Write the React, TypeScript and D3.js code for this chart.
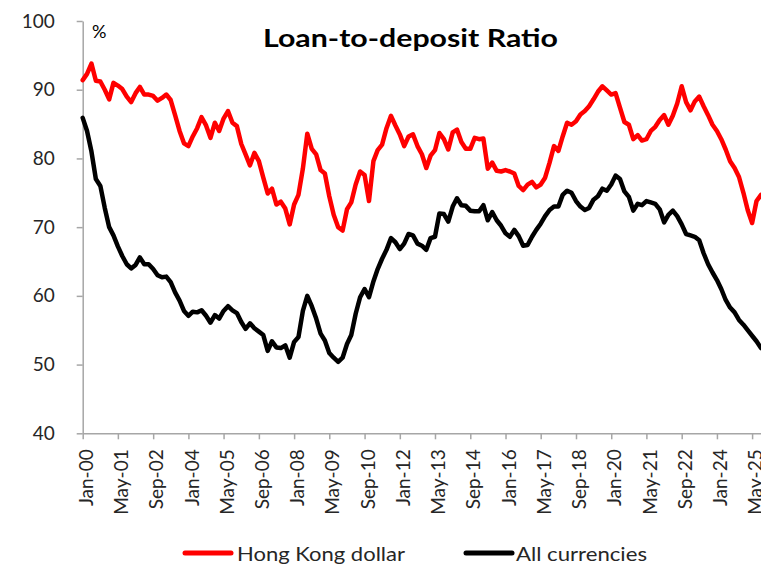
import { useEffect, useRef } from "react";
import * as d3 from "d3";

// monthly data sampled every 2 months, starting Jan-00
const startMonth = "Jan-00";
const stepMonths = 2;
const lastMonthOffset = 308;

const hkDollar = [
  91.4, 92.3, 93.8, 91.3, 91.2, 90.0, 88.6, 91.0, 90.6, 90.1,
  89.0, 88.2, 89.5, 90.4, 89.3, 89.3, 89.1, 88.4, 88.8, 89.3,
  88.5, 86.3, 84.0, 82.2, 81.8, 83.2, 84.4, 86.0, 84.8, 83.0,
  85.2, 84.0, 85.8, 86.9, 85.2, 84.7, 82.1, 80.6, 79.0, 80.8,
  79.6, 77.2, 74.9, 75.6, 73.3, 73.7, 72.7, 70.4, 73.3, 74.7,
  78.5, 83.6, 81.4, 80.6, 78.3, 77.8, 74.5, 71.8, 70.0, 69.5,
  72.6, 73.6, 76.2, 78.1, 77.6, 73.8, 79.6, 81.2, 82.0, 84.4,
  86.2, 84.8, 83.5, 81.8, 83.2, 83.5, 81.8, 80.6, 78.6, 80.4,
  81.2, 83.7, 82.8, 81.3, 83.8, 84.2, 82.4, 81.4, 81.4, 83.0,
  82.8, 82.9, 78.5, 79.4, 78.2, 78.1, 78.3, 78.1, 77.8, 76.0,
  75.4, 76.2, 76.6, 75.8, 76.2, 77.2, 79.4, 81.8, 81.1, 83.2,
  85.2, 84.9, 85.4, 86.4, 86.9, 87.6, 88.6, 89.7, 90.5, 89.9,
  89.3, 89.5, 87.4, 85.3, 84.9, 82.8, 83.4, 82.6, 82.8, 84.0,
  84.6, 85.6, 86.3, 84.9, 86.2, 88.0, 90.5, 88.2, 87.0, 88.3,
  89.0, 87.6, 86.3, 84.9, 84.0, 82.8, 81.3, 79.6, 78.6, 77.3,
  75.0, 72.5, 70.6, 73.8, 74.7,
];

const allCurrencies = [
  85.9, 84.0, 81.0, 77.0, 76.0, 72.8, 70.0, 68.8, 67.2, 65.8,
  64.6, 64.0, 64.5, 65.6, 64.6, 64.6, 63.9, 63.0, 62.7, 62.8,
  62.0, 60.5, 59.3, 57.8, 57.1, 57.7, 57.6, 57.9, 57.1, 56.1,
  57.2, 56.7, 57.8, 58.5, 57.9, 57.5, 56.2, 55.2, 56.0, 55.3,
  54.8, 54.3, 52.0, 53.4, 52.5, 52.4, 52.8, 51.0, 53.3, 54.0,
  57.8, 60.0, 58.5, 56.7, 54.5, 53.5, 51.7, 51.0, 50.4, 51.0,
  53.0, 54.3, 57.4, 59.8, 61.0, 59.8, 62.1, 63.9, 65.4, 66.7,
  68.4, 67.8, 66.8, 67.6, 69.0, 68.8, 67.6, 67.3, 66.7, 68.4,
  68.6, 72.0, 71.9, 70.8, 73.0, 74.2, 73.2, 73.1, 72.4, 72.3,
  72.3, 73.2, 71.0, 72.2, 71.0, 70.2, 69.1, 68.6, 69.6, 68.7,
  67.3, 67.4, 68.6, 69.6, 70.5, 71.6, 72.5, 73.0, 73.0, 74.7,
  75.3, 75.0, 73.8, 73.0, 72.5, 72.8, 74.0, 74.5, 75.6, 75.3,
  76.2, 77.5, 77.0, 75.2, 74.4, 72.4, 73.4, 73.2, 73.8, 73.6,
  73.4, 72.6, 70.7, 71.8, 72.4, 71.6, 70.4, 69.0, 68.8, 68.6,
  68.1, 66.2, 64.6, 63.4, 62.3, 61.0, 59.4, 58.3, 57.6, 56.5,
  55.8, 55.0, 54.2, 53.4, 52.4,
];

const tickLabels = [
  "Jan-00", "May-01", "Sep-02", "Jan-04", "May-05", "Sep-06", "Jan-08",
  "May-09", "Sep-10", "Jan-12", "May-13", "Sep-14", "Jan-16", "May-17",
  "Sep-18", "Jan-20", "May-21", "Sep-22", "Jan-24", "May-25",
];
const yTicks = [40, 50, 60, 70, 80, 90, 100];
const seriesNames = ["Hong Kong dollar", "All currencies"];
const seriesColors = ["#FF0000", "#000000"];

const width = 761;
const height = 564;
const font = "Lato, 'Open Sans', sans-serif";

const App = () => {
  const ref = useRef<SVGSVGElement | null>(null);

  useEffect(() => {
    if (!ref.current) return;
    const svg = d3.select(ref.current);
    svg.selectAll("*").remove();

    const parse = d3.timeParse("%b-%y");
    const start = parse(startMonth) as Date;
    const dates = hkDollar.map((_, i) => d3.timeMonth.offset(start, i * stepMonths));

    const x = d3
      .scaleTime()
      .domain([start, d3.timeMonth.offset(start, lastMonthOffset)])
      .range([82.7, 761]);
    const y = d3.scaleLinear().domain([40, 100]).range([433.3, 21]);

    const axisColor = "#A6A6A6";
    const textColor = "#262626";

    // y axis
    svg
      .append("g")
      .attr("transform", `translate(${x.range()[0]},0)`)
      .call(d3.axisLeft(y).tickValues(yTicks).tickSize(6).tickSizeOuter(0).tickPadding(22))
      .call((g) => g.select(".domain").attr("stroke", axisColor).attr("stroke-width", 1.5))
      .call((g) => g.selectAll(".tick line").attr("stroke", axisColor).attr("stroke-width", 1.5))
      .call((g) =>
        g
          .selectAll(".tick text")
          .attr("fill", textColor)
          .style("font-family", font)
          .style("font-size", "19px")
      );

    // x axis
    const tickDates = tickLabels.map((t) => parse(t) as Date);
    svg
      .append("g")
      .attr("transform", `translate(0,${y(40)})`)
      .call(
        d3
          .axisBottom(x)
          .tickValues(tickDates)
          .tickSize(6)
          .tickSizeOuter(0)
          .tickFormat((_, i) => tickLabels[i])
      )
      .call((g) => g.select(".domain").attr("stroke", axisColor).attr("stroke-width", 1.5))
      .call((g) => g.selectAll(".tick line").attr("stroke", axisColor).attr("stroke-width", 1.5))
      .call((g) =>
        g
          .selectAll(".tick text")
          .attr("fill", textColor)
          .attr("transform", "rotate(-90)")
          .attr("text-anchor", "end")
          .attr("x", -16)
          .attr("y", 3)
          .attr("dy", "0.35em")
          .style("font-family", font)
          .style("font-size", "19px")
      );

    const line = d3
      .line<number>()
      .x((_, i) => x(dates[i]))
      .y((d) => y(d));

    [hkDollar, allCurrencies].forEach((values, k) => {
      svg
        .append("path")
        .attr("fill", "none")
        .attr("stroke", seriesColors[k])
        .attr("stroke-width", 4.5)
        .attr("stroke-linejoin", "round")
        .attr("stroke-linecap", "round")
        .attr("d", line(values));
    });

    // title and unit
    svg
      .append("text")
      .attr("x", 263)
      .attr("y", 47)
      .attr("textLength", 295)
      .attr("lengthAdjust", "spacingAndGlyphs")
      .style("font-family", font)
      .style("font-weight", "bold")
      .style("font-size", "25px")
      .attr("fill", "#000")
      .text("Loan-to-deposit Ratio");

    svg
      .append("text")
      .attr("x", 92)
      .attr("y", 38)
      .style("font-family", font)
      .style("font-size", "18px")
      .attr("fill", "#000")
      .text("%");

    // legend
    const legend = [
      { x1: 185, x2: 231, tx: 237, tw: 168 },
      { x1: 466, x2: 512, tx: 516, tw: 131 },
    ];
    legend.forEach((l, k) => {
      svg
        .append("line")
        .attr("x1", l.x1)
        .attr("x2", l.x2)
        .attr("y1", 553)
        .attr("y2", 553)
        .attr("stroke", seriesColors[k])
        .attr("stroke-width", 5)
        .attr("stroke-linecap", "round");
      svg
        .append("text")
        .attr("x", l.tx)
        .attr("y", 561)
        .attr("textLength", l.tw)
        .attr("lengthAdjust", "spacingAndGlyphs")
        .style("font-family", font)
        .style("font-size", "19px")
        .attr("fill", textColor)
        .text(seriesNames[k]);
    });
  }, []);

  return (
    <svg
      ref={ref}
      width={width}
      height={height}
      style={{ position: "absolute", left: 0, top: 0, background: "#fff" }}
    />
  );
};

export default App;
